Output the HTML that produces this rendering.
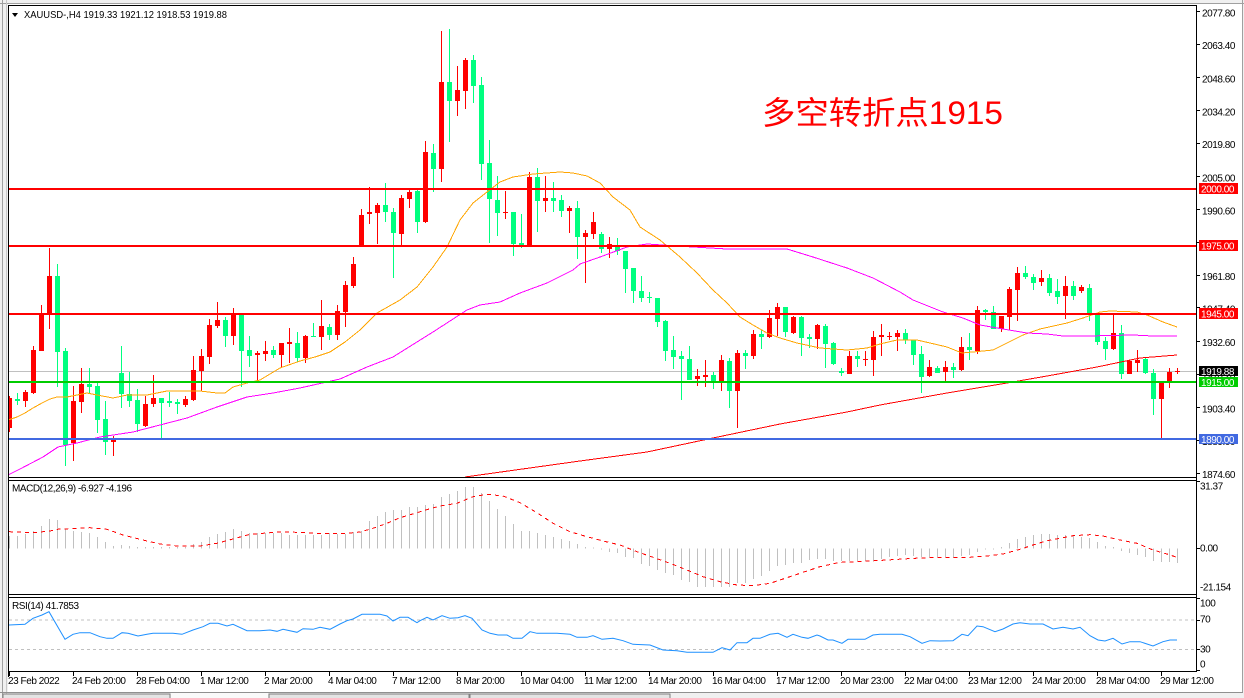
<!DOCTYPE html>
<html><head><meta charset="utf-8"><style>
html,body{margin:0;padding:0;background:#fff;}
svg{display:block;}
.t{font-family:"Liberation Sans",sans-serif;font-size:10px;letter-spacing:-0.45px;fill:#000;}
.w{fill:#fff;}
</style></head><body>
<svg width="1244" height="698" viewBox="0 0 1244 698" xmlns="http://www.w3.org/2000/svg">
<defs>
<clipPath id="cm"><rect x="9" y="6" width="1187" height="471"/></clipPath>
<clipPath id="cd"><rect x="9" y="481" width="1187" height="113"/></clipPath>
<clipPath id="cr"><rect x="9" y="598" width="1187" height="73"/></clipPath>
</defs>
<!-- frame background -->
<rect x="0" y="0" width="1244" height="698" fill="#f0f0f0"/>
<rect x="8" y="4" width="1234" height="688" fill="#fff"/>
<g shape-rendering="crispEdges">
<rect x="0" y="3" width="1244" height="1" fill="#a0a0a0"/>
<rect x="2" y="0" width="1" height="698" fill="#a0a0a0"/>
<rect x="6" y="0" width="1" height="698" fill="#c8c8c8"/>
<rect x="1242" y="0" width="1" height="693" fill="#a0a0a0"/>
<rect x="0" y="692" width="1243" height="1" fill="#909090"/>
<rect x="3" y="694" width="167" height="6" fill="#e4e4e4" stroke="#808080" stroke-width="1"/>
<rect x="171" y="693" width="97" height="6" fill="#fafafa"/>
<rect x="269" y="694" width="200" height="6" fill="#e4e4e4" stroke="#808080" stroke-width="1"/>
<rect x="470" y="694" width="200" height="6" fill="#e4e4e4" stroke="#808080" stroke-width="1"/>
</g>

<!-- MAIN PANEL -->
<g clip-path="url(#cm)" shape-rendering="crispEdges">
<rect x="9" y="371" width="1187" height="1" fill="#c0c0c0"/>
<path fill="none" stroke="#ff0000" stroke-width="1" d="M9.5 396V432M25.5 390V407M33.5 346V394M41.5 305V351M49.5 248V329M73.5 386V461M81.5 368V413M113.5 436V456M145.5 396V427M153.5 375V407M185.5 396V407M193.5 356V401M201.5 349V391M209.5 319V364M217.5 302V328M233.5 308V345M257.5 351V382M265.5 341V361M281.5 343V367M289.5 328V363M305.5 335V363M321.5 300V350M337.5 305V340M345.5 281V327M353.5 257V288M361.5 209V247M369.5 187V224M377.5 203V244M401.5 195V245M409.5 189V208M425.5 141V223M441.5 31V182M457.5 66V116M465.5 58V109M505.5 191V219M529.5 172V246M545.5 176V212M569.5 206V233M585.5 230V283M593.5 212V239M609.5 237V258M697.5 369V386M705.5 360V387M721.5 355V391M737.5 350V428M753.5 330V359M769.5 310V338M777.5 303V336M793.5 316V334M817.5 324V349M849.5 351V374M865.5 351V366M873.5 331V376M881.5 324V356M889.5 332V340M897.5 330V351M929.5 360V377M945.5 361V381M961.5 337V371M977.5 306V354M1001.5 316V332M1009.5 287V330M1017.5 267V321M1041.5 270V286M1065.5 276V319M1081.5 285V293M1113.5 314V350M1129.5 360V374M1137.5 350V372M1161.5 382V438M1169.5 368V388M1177.5 368V374"/>
<path fill="#ff0000" d="M7 398h5v30h-5zM23 392h5v9h-5zM31 350h5v43h-5zM39 314h5v37h-5zM47 276h5v38h-5zM71 401h5v42h-5zM79 384h5v18h-5zM111 439h5v3h-5zM143 404h5v22h-5zM151 398h5v6h-5zM183 399h5v6h-5zM191 370h5v30h-5zM199 356h5v15h-5zM207 325h5v32h-5zM215 320h5v6h-5zM231 314h5v22h-5zM255 353h5v2h-5zM263 351h5v3h-5zM279 343h5v12h-5zM287 342h5v2h-5zM303 336h5v22h-5zM319 326h5v11h-5zM335 311h5v24h-5zM343 285h5v27h-5zM351 264h5v22h-5zM359 215h5v32h-5zM367 212h5v2h-5zM375 205h5v8h-5zM399 198h5v36h-5zM407 192h5v7h-5zM423 152h5v70h-5zM439 82h5v87h-5zM455 90h5v11h-5zM463 60h5v31h-5zM503 212h5v1h-5zM527 177h5v69h-5zM543 198h5v3h-5zM567 208h5v3h-5zM583 233h5v4h-5zM591 222h5v12h-5zM607 244h5v5h-5zM695 376h5v3h-5zM703 375h5v2h-5zM719 360h5v21h-5zM735 353h5v38h-5zM751 334h5v22h-5zM767 318h5v19h-5zM775 307h5v12h-5zM791 317h5v16h-5zM815 325h5v14h-5zM847 356h5v18h-5zM863 359h5v1h-5zM871 337h5v23h-5zM879 335h5v2h-5zM887 336h5v1h-5zM895 333h5v4h-5zM927 367h5v9h-5zM943 367h5v5h-5zM959 347h5v23h-5zM975 310h5v41h-5zM999 316h5v13h-5zM1007 289h5v28h-5zM1015 273h5v17h-5zM1039 278h5v4h-5zM1063 286h5v10h-5zM1079 287h5v4h-5zM1111 333h5v16h-5zM1127 361h5v13h-5zM1135 360h5v3h-5zM1159 382h5v17h-5zM1167 372h5v9h-5zM1175 371h5v1h-5z"/>
<path fill="none" stroke="#00ff7f" stroke-width="1" d="M17.5 393V405M57.5 264V387M65.5 348V466M89.5 368V393M97.5 383V433M105.5 401V455M121.5 346V408M129.5 372V407M137.5 389V432M161.5 398V438M169.5 392V407M177.5 399V414M225.5 317V347M241.5 314V387M249.5 336V367M273.5 346V358M297.5 332V362M313.5 323V337M329.5 324V340M385.5 183V222M393.5 208V278M417.5 188V233M433.5 144V192M449.5 29V142M473.5 55V103M481.5 77V180M489.5 140V243M497.5 176V236M513.5 212V256M521.5 214V248M537.5 168V232M553.5 182V212M561.5 195V217M577.5 201V259M601.5 232V253M617.5 238V255M625.5 251V293M633.5 268V303M641.5 276V302M649.5 292V303M657.5 298V327M665.5 320V361M673.5 336V369M681.5 351V400M689.5 346V380M713.5 372V389M729.5 358V408M745.5 350V369M761.5 330V349M785.5 307V337M801.5 316V356M809.5 334V348M825.5 324V368M833.5 342V365M841.5 368V376M857.5 351V367M905.5 329V344M913.5 340V365M921.5 346V393M937.5 366V373M953.5 363V378M969.5 333V360M985.5 309V320M993.5 306V329M1025.5 266V279M1033.5 274V290M1049.5 274V296M1057.5 279V304M1073.5 281V300M1089.5 284V321M1097.5 314V345M1105.5 337V360M1121.5 325V379M1145.5 358V374M1153.5 369V415"/>
<path fill="#00ff7f" d="M15 399h5v2h-5zM55 276h5v76h-5zM63 351h5v94h-5zM87 384h5v3h-5zM95 386h5v34h-5zM103 419h5v23h-5zM119 373h5v21h-5zM127 394h5v7h-5zM135 400h5v24h-5zM159 398h5v5h-5zM167 401h5v2h-5zM175 402h5v2h-5zM223 320h5v16h-5zM239 314h5v37h-5zM247 350h5v6h-5zM271 350h5v5h-5zM295 343h5v15h-5zM311 336h5v1h-5zM327 327h5v8h-5zM383 205h5v7h-5zM391 212h5v21h-5zM415 191h5v31h-5zM431 153h5v16h-5zM447 82h5v19h-5zM471 60h5v26h-5zM479 85h5v79h-5zM487 163h5v36h-5zM495 200h5v13h-5zM511 212h5v32h-5zM519 243h5v2h-5zM535 177h5v24h-5zM551 198h5v3h-5zM559 200h5v11h-5zM575 208h5v29h-5zM599 234h5v15h-5zM615 247h5v4h-5zM623 251h5v18h-5zM631 268h5v23h-5zM639 291h5v7h-5zM647 297h5v1h-5zM655 298h5v24h-5zM663 321h5v30h-5zM671 350h5v7h-5zM679 356h5v3h-5zM687 359h5v21h-5zM711 375h5v6h-5zM727 361h5v30h-5zM743 353h5v3h-5zM759 334h5v3h-5zM783 307h5v25h-5zM799 317h5v21h-5zM807 337h5v2h-5zM823 326h5v18h-5zM831 343h5v21h-5zM839 371h5v2h-5zM855 356h5v3h-5zM903 333h5v7h-5zM911 340h5v15h-5zM919 354h5v23h-5zM935 368h5v5h-5zM951 367h5v3h-5zM967 347h5v3h-5zM983 310h5v2h-5zM991 312h5v17h-5zM1023 273h5v4h-5zM1031 277h5v6h-5zM1047 278h5v15h-5zM1055 291h5v6h-5zM1071 286h5v10h-5zM1087 288h5v26h-5zM1095 314h5v28h-5zM1103 341h5v8h-5zM1119 333h5v41h-5zM1143 359h5v14h-5zM1151 373h5v26h-5z"/>
<!-- moving averages -->
<polyline fill="none" stroke="#ffa500" stroke-width="1" points="8,420 17,417 25,413 33,408 42,403 50,399 57,397 67,397 77,395 87,393 97,395 113,398 127,395 147,395 167,391 187,391 200,391 217,393 225,393 233,387 247,383 260,380 280,368 300,361 315,357 330,352 345,342 360,330 377,313 400,300 417,287 433,267 447,247 460,220 473,203 487,192 500,182 513,177 533,174 560,172 573,173 587,176 600,183 613,197 630,210 640,227 660,240 680,257 697,273 713,290 727,303 740,317 753,325 767,333 780,338 797,343 820,348 847,350 867,348 880,344 897,340 917,340 930,343 947,347 962,353 973,352 993,350 1003,345 1023,335 1040,329 1067,323 1083,318 1100,312 1110,311 1137,312 1147,315 1163,322 1177,327"/>
<polyline fill="none" stroke="#ff00ff" stroke-width="1" points="8,475 20,469 43,457 58,447 77,443 100,437 133,432 160,425 187,418 217,407 247,397 273,393 300,388 340,379 367,367 393,357 433,332 467,310 480,305 500,302 520,293 547,283 573,270 580,264 600,257 627,247 647,244 693,247 727,249 787,249 813,257 847,268 873,278 900,292 913,300 943,312 963,318 980,325 1003,329 1027,333 1047,334 1063,336 1087,336 1133,335 1153,336 1177,336"/>
<polyline fill="none" stroke="#ff0000" stroke-width="1" points="465,477 580,461 647,452 713,438 780,424 847,412 880,405 947,393 1007,383 1047,376 1097,367 1140,358 1177,355"/>
<!-- horizontal levels -->
<rect x="9" y="188" width="1187" height="2" fill="#ff0000"/>
<rect x="9" y="245" width="1187" height="2" fill="#ff0000"/>
<rect x="9" y="313" width="1187" height="2" fill="#ff0000"/>
<rect x="9" y="381" width="1187" height="2" fill="#00cc00"/>
<rect x="9" y="438" width="1187" height="2" fill="#4169e1"/>
</g>
<text x="762" y="124" font-family="'Liberation Sans','Noto Sans CJK SC',sans-serif" font-size="32" fill="#ff0000" textLength="241" lengthAdjust="spacingAndGlyphs">多空转折点1915</text>
<polygon points="12,13 18,13 15,17" fill="#000"/>
<text class="t" x="24" y="18" textLength="203" lengthAdjust="spacingAndGlyphs" style="letter-spacing:0">XAUUSD-,H4  1919.33 1921.12 1918.53 1919.88</text>

<!-- MACD -->
<g clip-path="url(#cd)" shape-rendering="crispEdges">
<path fill="none" stroke="#c0c0c0" stroke-width="1" d="M9.5 548.5V536M17.5 548.5V536M25.5 548.5V534M33.5 548.5V531M41.5 548.5V526M49.5 548.5V519M57.5 548.5V520M65.5 548.5V529M73.5 548.5V531M81.5 548.5V532M89.5 548.5V533M97.5 548.5V537M105.5 548.5V542M113.5 548.5V546M121.5 548.5V545M129.5 548.5V546M137.5 548.5V547M145.5 548.5V547M153.5 548.5V547M161.5 548.5V547M169.5 548.5V547M177.5 548.5V547M185.5 548.5V547M193.5 548.5V544M201.5 548.5V542M209.5 548.5V537M217.5 548.5V534M225.5 548.5V532M233.5 548.5V529M241.5 548.5V531M249.5 548.5V533M257.5 548.5V533M265.5 548.5V533M273.5 548.5V533M281.5 548.5V533M289.5 548.5V535M297.5 548.5V535M305.5 548.5V535M313.5 548.5V535M321.5 548.5V535M329.5 548.5V533M337.5 548.5V534M345.5 548.5V534M353.5 548.5V532M361.5 548.5V531M369.5 548.5V521M377.5 548.5V516M385.5 548.5V512M393.5 548.5V510M401.5 548.5V510M409.5 548.5V507M417.5 548.5V507M425.5 548.5V505M433.5 548.5V504M441.5 548.5V497M449.5 548.5V494M457.5 548.5V491M465.5 548.5V487M473.5 548.5V487M481.5 548.5V493M489.5 548.5V501M497.5 548.5V509M505.5 548.5V516M513.5 548.5V524M521.5 548.5V531M529.5 548.5V531M537.5 548.5V533M545.5 548.5V535M553.5 548.5V537M561.5 548.5V539M569.5 548.5V541M577.5 548.5V544M585.5 548.5V547M593.5 548.5V547.5M601.5 548.5V549.5M609.5 548.5V552M617.5 548.5V553M625.5 548.5V557M633.5 548.5V558M641.5 548.5V564M649.5 548.5V566M657.5 548.5V570M665.5 548.5V573M673.5 548.5V575M681.5 548.5V580M689.5 548.5V582M697.5 548.5V587M705.5 548.5V587M713.5 548.5V587M721.5 548.5V587M729.5 548.5V587M737.5 548.5V583M745.5 548.5V583M753.5 548.5V579M761.5 548.5V576M769.5 548.5V571M777.5 548.5V566M785.5 548.5V565M793.5 548.5V563M801.5 548.5V563M809.5 548.5V560M817.5 548.5V559M825.5 548.5V559M833.5 548.5V561M841.5 548.5V561M849.5 548.5V561M857.5 548.5V561M865.5 548.5V561M873.5 548.5V561M881.5 548.5V559M889.5 548.5V557M897.5 548.5V556M905.5 548.5V555M913.5 548.5V556M921.5 548.5V557M929.5 548.5V557M937.5 548.5V557M945.5 548.5V557M953.5 548.5V558M961.5 548.5V556M969.5 548.5V555M977.5 548.5V552M985.5 548.5V549.5M993.5 548.5V549.5M1001.5 548.5V547M1009.5 548.5V543M1017.5 548.5V539M1025.5 548.5V537M1033.5 548.5V535M1041.5 548.5V534M1049.5 548.5V534M1057.5 548.5V535M1065.5 548.5V535M1073.5 548.5V536M1081.5 548.5V537M1089.5 548.5V538M1097.5 548.5V542M1105.5 548.5V546M1113.5 548.5V547M1121.5 548.5V551M1129.5 548.5V553M1137.5 548.5V555M1145.5 548.5V557M1153.5 548.5V561M1161.5 548.5V562M1169.5 548.5V562M1177.5 548.5V563"/>
<polyline fill="none" stroke="#ff0000" stroke-width="1" stroke-dasharray="4 4" points="9,531.7 33,532.7 50,531 57,529.3 90,527.7 107,529.3 123,535 140,539.3 160,544 177,546 200,546 217,543.3 233,539 250,534.3 283,531.7 317,533.3 347,533.3 360,532 373,528.3 387,523.3 400,517.7 417,512.7 423,510.7 440,506 457,503.3 473,496.7 487,494.3 503,496 520,502.7 537,512.7 553,523.3 570,531.7 587,536.7 603,541 620,545 637,551.7 653,557.3 670,563.3 687,570 703,576.7 720,581.7 737,585 753,585.7 770,583.3 787,577.7 803,572.3 820,566.7 840,562.3 853,562 870,561 887,560 903,559 920,558 937,557.3 970,557.3 987,556 1003,554 1020,549.3 1033,545 1047,540.7 1060,538.3 1073,535.7 1090,534.7 1103,536 1120,540 1137,543.3 1153,550 1167,554 1177,557.3"/>
</g>
<text class="t" x="12" y="491.5">MACD(12,26,9) -6.927 -4.196</text>

<!-- RSI -->
<g clip-path="url(#cr)">
<g shape-rendering="crispEdges">
<line x1="9" y1="620" x2="1196" y2="620" stroke="#c0c0c0" stroke-width="1" stroke-dasharray="3 3"/>
<line x1="9" y1="649.5" x2="1196" y2="649.5" stroke="#c0c0c0" stroke-width="1" stroke-dasharray="3 3"/>
</g>
<polyline fill="none" stroke="#1e90ff" stroke-width="1" points="9,625 25,624.3 33,618.3 42,615 49,611.7 65,639.3 73,634.3 80,632.7 90,632.7 100,636.7 107,638.3 113,638.3 122,632.7 128,633.3 138,636 147,634.3 153,633.3 173,633.3 182,634.3 193,630 203,626.7 210,623.3 218,623.3 227,626 233,624.3 247,630.7 260,630.7 270,630 277,631.3 283,629.3 297,632.3 303,628.7 313,629.3 320,627.3 330,629.3 340,624 347,620.7 353,619 362,614.3 380,614.3 387,616 393,621 400,617.3 408,617.3 417,622.7 420,620.7 427,617.3 433,620 442,615.7 450,618.3 458,617.7 465,615.7 472,618.3 482,630 490,633.3 498,635 507,635 513,638.3 522,638.3 530,631.7 537,633.3 557,633.3 570,634.3 577,637.3 587,637.3 593,635.7 602,639.3 613,638.3 623,640.7 633,644.3 650,645 663,650 677,650.7 687,652.3 713,652.3 722,647.7 730,650 737,642.7 747,642.7 753,638.3 760,638.3 770,634.3 778,633.3 787,637.3 793,634.3 802,637.3 808,638.3 817,635 820,636 828,640 833,640 842,643.3 848,639.3 865,639.3 873,635 880,634.3 902,634.3 910,636.7 922,643.3 930,640.7 940,641 953,640.7 962,634.3 968,635.7 977,626 983,626.7 995,631.7 1003,629 1013,624 1020,622.7 1030,624 1043,624 1053,629 1063,627.3 1073,629 1080,627.3 1090,635.7 1098,640 1105,641 1113,638.3 1122,644 1130,641.7 1140,641.7 1153,646 1163,641.7 1170,640 1177,640"/>
</g>
<text class="t" x="12" y="609">RSI(14) 41.7853</text>

<!-- panel borders -->
<g shape-rendering="crispEdges" fill="#000">
<rect x="8" y="5" width="1189" height="1"/>
<rect x="8" y="5" width="1" height="672"/>
<rect x="1196" y="5" width="1" height="667"/>
<rect x="8" y="477" width="1189" height="1"/>
<rect x="8" y="480" width="1189" height="1"/>
<rect x="8" y="594" width="1189" height="1"/>
<rect x="8" y="597" width="1189" height="1"/>
<rect x="8" y="671" width="1189" height="1"/>
</g>
<!-- axis ticks -->
<path shape-rendering="crispEdges" fill="none" stroke="#000" stroke-width="1" d="M1197 11.5H1200M1197 44.5H1200M1197 77.5H1200M1197 110.5H1200M1197 143.5H1200M1197 176.5H1200M1197 209.5H1200M1197 242.5H1200M1197 275.5H1200M1197 307.5H1200M1197 341.5H1200M1197 374.5H1200M1197 407.5H1200M1197 440.5H1200M1197 473.5H1200M1197 481.5H1200M1197 548.5H1200M1197 598.5H1200M1197 620.5H1200M1197 649.5H1200M1197 670.5H1200M9.5 672V676M73.5 672V676M137.5 672V676M201.5 672V676M265.5 672V676M329.5 672V676M393.5 672V676M457.5 672V676M521.5 672V676M585.5 672V676M649.5 672V676M713.5 672V676M777.5 672V676M841.5 672V676M905.5 672V676M969.5 672V676M1033.5 672V676M1097.5 672V676M1161.5 672V676"/>
<!-- price labels -->
<g class="t">
<text class="t" x="1202" y="16.5">2077.80</text>
<text class="t" x="1202" y="49">2063.40</text>
<text class="t" x="1202" y="82.5">2048.60</text>
<text class="t" x="1202" y="115.3">2034.20</text>
<text class="t" x="1202" y="148">2019.80</text>
<text class="t" x="1202" y="181.5">2005.00</text>
<text class="t" x="1202" y="214.5">1990.60</text>
<text class="t" x="1202" y="247">1976.20</text>
<text class="t" x="1202" y="280">1961.80</text>
<text class="t" x="1202" y="312.5">1947.40</text>
<text class="t" x="1202" y="346">1932.60</text>
<text class="t" x="1202" y="379">1918.20</text>
<text class="t" x="1202" y="412.5">1903.40</text>
<text class="t" x="1202" y="445">1889.00</text>
<text class="t" x="1202" y="478">1874.60</text>
</g>
<!-- value boxes -->
<g shape-rendering="crispEdges">
<rect x="1199" y="183" width="39" height="11" fill="#ff0000"/>
<rect x="1199" y="240" width="39" height="11" fill="#ff0000"/>
<rect x="1199" y="308" width="39" height="11" fill="#ff0000"/>
<rect x="1199" y="366" width="39" height="10" fill="#000"/>
<rect x="1199" y="377" width="39" height="10" fill="#00cc00"/>
<rect x="1199" y="434" width="39" height="10" fill="#4169e1"/>
</g>
<text class="t w" x="1201" y="192.5">2000.00</text>
<text class="t w" x="1201" y="249.5">1975.00</text>
<text class="t w" x="1201" y="317.5">1945.00</text>
<text class="t w" x="1201" y="375">1919.88</text>
<text class="t w" x="1201" y="386">1915.00</text>
<text class="t w" x="1201" y="443">1890.00</text>
<!-- MACD / RSI axis labels -->
<text class="t" x="1200" y="489.5">31.37</text>
<text class="t" x="1200" y="551.5">0.00</text>
<text class="t" x="1200" y="590.5">-21.154</text>
<text class="t" x="1200" y="606.5">100</text>
<text class="t" x="1200" y="622.5">70</text>
<text class="t" x="1200" y="652.5">30</text>
<text class="t" x="1200" y="667.5">0</text>
<!-- time labels -->
<text class="t" x="8" y="684">23 Feb 2022</text>
<text class="t" x="72" y="684">24 Feb 20:00</text>
<text class="t" x="136" y="684">28 Feb 04:00</text>
<text class="t" x="200" y="684">1 Mar 12:00</text>
<text class="t" x="264" y="684">2 Mar 20:00</text>
<text class="t" x="328" y="684">4 Mar 04:00</text>
<text class="t" x="392" y="684">7 Mar 12:00</text>
<text class="t" x="456" y="684">8 Mar 20:00</text>
<text class="t" x="520" y="684">10 Mar 04:00</text>
<text class="t" x="584" y="684">11 Mar 12:00</text>
<text class="t" x="648" y="684">14 Mar 20:00</text>
<text class="t" x="712" y="684">16 Mar 04:00</text>
<text class="t" x="776" y="684">17 Mar 12:00</text>
<text class="t" x="840" y="684">20 Mar 23:00</text>
<text class="t" x="904" y="684">22 Mar 04:00</text>
<text class="t" x="968" y="684">23 Mar 12:00</text>
<text class="t" x="1032" y="684">24 Mar 20:00</text>
<text class="t" x="1096" y="684">28 Mar 04:00</text>
<text class="t" x="1160" y="684">29 Mar 12:00</text>
</svg>
</body></html>
